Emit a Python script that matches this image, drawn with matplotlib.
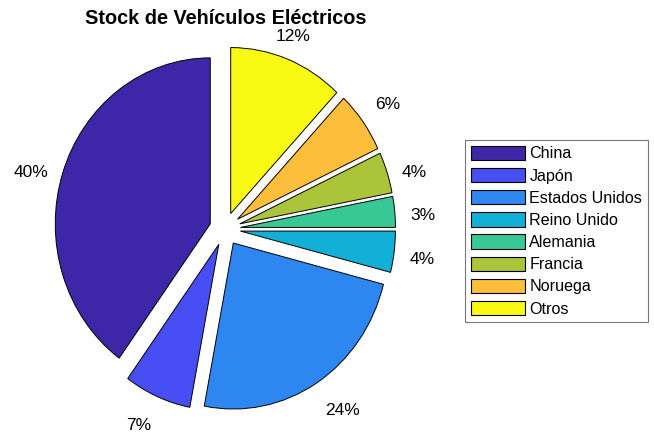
import numpy as np
import matplotlib
matplotlib.use("Agg")
import matplotlib.pyplot as plt
import matplotlib.transforms as mtransforms
from matplotlib.patches import Wedge, Patch

plt.rcParams['font.family'] = ['Liberation Sans', 'DejaVu Sans']

paises = ["China", "Japón", "Estados Unidos", "Reino Unido", "Alemania",
          "Francia", "Noruega", "Otros"]
stock = [40, 7, 24, 4, 3, 4, 6, 12]
colores = ["#3e26a8", "#474ef4", "#2e87f0", "#12b0d6", "#38c896",
           "#abc43a", "#fdbe3c", "#f8fa14"]

W, H = 654, 434
fig = plt.figure(figsize=(W / 100, H / 100), dpi=100)

# axes box: pie centre at (cx, cy) pixels, radii Rx, Ry pixels
cx, cy, Rx, Ry = 225, 229, 155, 166
L = 1.3
Sx, Sy = 2 * L * Rx, 2 * L * Ry
ax = fig.add_axes([(cx - Sx / 2) / W, (H - cy - Sy / 2) / H, Sx / W, Sy / H])
ax.set_xlim(-L, L)
ax.set_ylim(-L, L)
ax.set_aspect("auto")
ax.axis("off")

# small downward nudge (in pixels) per vertical alignment
nudge = {"bottom": 0, "center_baseline": -4, "top": -6}

total = sum(stock)
explode = 0.1
theta = 90.0
for val, col in zip(stock, colores):
    span = 360.0 * val / total
    mid = np.deg2rad(theta + span / 2)
    c, s = np.cos(mid), np.sin(mid)
    ox, oy = explode * c, explode * s
    ax.add_patch(Wedge((ox, oy), 1.0, theta, theta + span, facecolor=col,
                       edgecolor="black", linewidth=0.7))
    # label sits just outside the wedge, aligned away from the pie
    ha = "center" if abs(c) < 0.38 else ("left" if c > 0 else "right")
    va = "bottom" if s > 0.5 else ("top" if s < -0.5 else "center_baseline")
    tr = ax.transData + mtransforms.ScaledTranslation(0, nudge[va] / 100,
                                                      fig.dpi_scale_trans)
    pct = f"{round(100 * val / total):d}%"
    ax.text(ox + 1.1 * c, oy + 1.1 * s, pct, ha=ha, va=va, fontsize=12.5,
            transform=tr)
    theta += span

fig.text(226 / W, 1 - 19 / H, "Stock de Vehículos Eléctricos",
         ha="center", va="center", fontsize=14.3, fontweight="bold")

handles = [Patch(facecolor=c, edgecolor="black", linewidth=0.8) for c in colores]
leg = fig.legend(handles, paises, loc="upper left",
                 bbox_to_anchor=(465 / W, 1 - 140 / H), fontsize=11.6,
                 frameon=True, fancybox=False, edgecolor="#555555",
                 handlelength=3.4, handleheight=1.0, handletextpad=0.25,
                 labelspacing=0.4, borderpad=0.35, borderaxespad=0)
leg.get_frame().set_linewidth(0.8)

fig.savefig("out.png", dpi=100)
